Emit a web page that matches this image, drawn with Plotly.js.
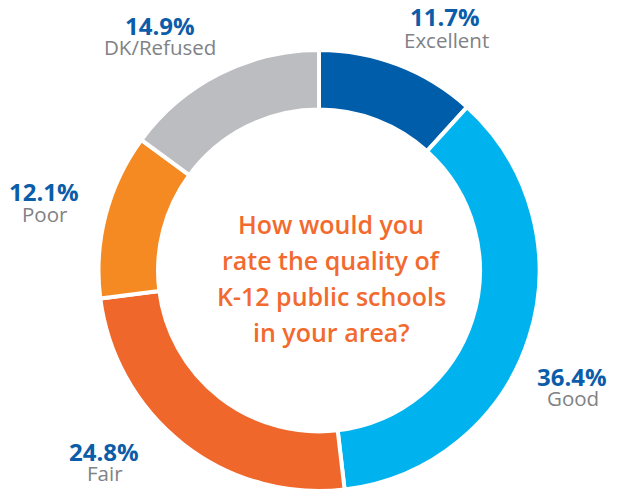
<!DOCTYPE html>
<html>
<head>
<meta charset="utf-8">
<script src="https://cdn.plot.ly/plotly-3.0.1.min.js"></script>
<style>html,body{margin:0;padding:0;background:#fff;}#chart{width:621px;height:491px;}</style>
</head>
<body>
<div id="chart"></div>
<script>
// Data
var categories = ["Excellent", "Good", "Fair", "Poor", "DK/Refused"];
var values = [11.7, 36.4, 24.8, 12.1, 14.9];
var sliceColors = ["#005DAA", "#00B3EE", "#F0672B", "#F58A22", "#BCBDC0"];
var questionLines = ["How would you", "rate the quality of", "K-12 public schools", "in your area?"];

// Label placement (layout, pixel positions converted to paper coords)
var W = 621, H = 491;
var pctPos = [[445, 17], [572, 376], [104, 451], [44, 191], [160, 25]];
var catPos = [[446, 40], [573, 398], [105, 473], [45, 214], [160, 47]];
function px(x){ return x / W; }
function py(y){ return 1 - y / H; }

var annotations = [];
categories.forEach(function(c, i){
  annotations.push({
    xref: "paper", yref: "paper", x: px(pctPos[i][0]), y: py(pctPos[i][1]),
    xanchor: "center", yanchor: "middle", showarrow: false, borderpad: 0,
    text: values[i].toFixed(1) + "%",
    font: {family: "Open Sans", size: 24, color: "#0B5DA9", weight: 700}
  });
  annotations.push({
    xref: "paper", yref: "paper", x: px(catPos[i][0]), y: py(catPos[i][1]),
    xanchor: "center", yanchor: "middle", showarrow: false, borderpad: 0,
    text: c,
    font: {family: "Open Sans", size: 20.5, color: "#808285"}
  });
});
questionLines.forEach(function(t, i){
  annotations.push({
    xref: "paper", yref: "paper", x: px(331), y: py(224 + 36 * i),
    xanchor: "center", yanchor: "middle", showarrow: false,
    text: t,
    font: {family: "Open Sans", size: 25, color: "#F26A2E", weight: 600}
  });
});

var cx = 319, cy = 270.5, R = 220.5;
var trace = {
  type: "pie",
  labels: categories,
  values: values,
  sort: false,
  direction: "clockwise",
  rotation: 0,
  hole: 0.73,
  textinfo: "none",
  hoverinfo: "label+value",
  marker: {colors: sliceColors, line: {color: "#ffffff", width: 4}},
  domain: {x: [px(cx - R), px(cx + R)], y: [py(cy + R), py(cy - R)]},
  showlegend: false
};

Plotly.newPlot("chart", [trace], {
  width: W, height: H,
  margin: {l: 0, r: 0, t: 0, b: 0},
  paper_bgcolor: "#ffffff",
  showlegend: false,
  annotations: annotations
}, {displayModeBar: false, staticPlot: true});
</script>
</body>
</html>
